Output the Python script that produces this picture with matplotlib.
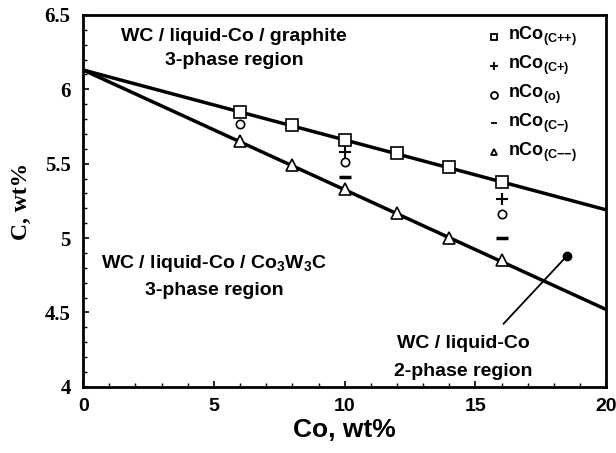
import matplotlib
matplotlib.use('Agg')
import numpy as np
from matplotlib import pyplot as plt

SANS = 'Liberation Sans'
SERIF = 'Liberation Serif'

plt.rcParams['mathtext.fontset'] = 'custom'
plt.rcParams['mathtext.rm'] = SANS + ':bold'
plt.rcParams['mathtext.bf'] = SANS + ':bold'
plt.rcParams['mathtext.it'] = SANS + ':bold'

# boundary lines (C wt% vs Co wt%)
line_x = [0, 20]
upper_c = [6.13, 5.19]
lower_c = [6.13, 4.52]

# samples
sq_x = [6, 8, 10, 12, 14, 16]
sq_c = [5.85, 5.76, 5.66, 5.57, 5.48, 5.38]
tri_x = [6, 8, 10, 12, 14, 16]
tri_c = [5.65, 5.49, 5.33, 5.17, 5.00, 4.85]
plus_x = [10, 16]
plus_c = [5.58, 5.26]
circ_x = [6, 10, 16]
circ_c = [5.77, 5.51, 5.16]
minus_x = [10, 16]
minus_c = [5.41, 5.00]

legend_labels = [r'nCo$_{\mathrm{(C{+}{+})}}$', r'nCo$_{\mathrm{(C{+})}}$', r'nCo$_{\mathrm{(o)}}$',
                 r'nCo$_{\mathrm{(C{-})}}$', r'nCo$_{\mathrm{(C{-}{-})}}$']
legend_markers = ['s', '+', 'o', '_', '^']

fig = plt.figure(figsize=(6.16, 4.53), dpi=100)
ax = fig.add_axes([0.135, 0.146, 0.849, 0.821])

ax.plot(line_x, upper_c, color='black', lw=2.5, zorder=2)
ax.plot(line_x, lower_c, color='black', lw=2.5, zorder=2)

ax.plot(sq_x, sq_c, 's', ms=8, mfc='white', mec='black', mew=1.2, ls='none', zorder=3)
ax.plot(tri_x, tri_c, '^', ms=9, mfc='white', mec='black', mew=1.2, ls='none', zorder=3)
ax.plot(plus_x, plus_c, '+', ms=8, mec='black', mew=1.5, ls='none', zorder=3)
ax.plot(circ_x, circ_c, 'o', ms=6, mfc='white', mec='black', mew=1.2, ls='none', zorder=3)
ax.plot(minus_x, minus_c, '_', ms=9, mec='black', mew=2.5, ls='none', zorder=3)

ax.set_xlim(0, 20)
ax.set_ylim(4, 6.5)
ax.set_xticks([0, 5, 10, 15, 20])
ax.set_xticks(np.arange(0, 21, 1), minor=True)
ax.set_yticks([4, 4.5, 5, 5.5, 6, 6.5])
ax.set_yticklabels(['4', '4.5', '5', '5.5', '6', '6.5'])
ax.set_yticks(np.arange(4, 6.51, 0.1), minor=True)
ax.tick_params(which='both', direction='in', top=False, right=False)
ax.tick_params(which='major', length=4, width=1.2)
ax.tick_params(which='minor', length=3, width=1)
ax.tick_params(axis='x', pad=8)
ax.tick_params(axis='y', pad=9)
for s in ax.spines.values():
    s.set_linewidth(2)

for lab in ax.get_xticklabels():
    lab.set_fontfamily(SANS)
    lab.set_fontweight('bold')
    lab.set_fontsize(14)
for lab in ax.get_yticklabels():
    lab.set_fontfamily(SERIF)
    lab.set_fontweight('bold')
    lab.set_fontsize(15)

ax.set_xlabel('Co, wt%', fontfamily=SANS, fontweight='bold', fontsize=19)
ax.xaxis.set_label_coords(0.5, -0.083)
ax.set_ylabel('C, wt%', fontfamily=SERIF, fontweight='bold', fontsize=17)
ax.yaxis.set_label_coords(-0.098, 0.5)

tkw = dict(fontfamily=SANS, fontweight='bold', fontsize=14, ha='center', va='center')
ax.text(5.78, 6.355, 'WC / liquid-Co / graphite', **tkw)
ax.text(5.78, 6.195, '3-phase region', **tkw)
ax.text(5.0, 4.83, 'WC / liquid-Co / Co$_{3}$W$_{3}$C', **tkw)
ax.text(5.0, 4.645, '3-phase region', **tkw)
ax.text(14.55, 4.29, 'WC / liquid-Co', **tkw)
ax.text(14.55, 4.1, '2-phase region', **tkw)

ax.annotate('', xy=(18.5, 4.88), xytext=(16.0, 4.41),
            arrowprops=dict(arrowstyle='-', color='black', lw=1.3))
ax.plot([18.5], [4.88], 'o', ms=6, color='black', zorder=4)

# legend drawn by hand in axes fraction
for i, (mk, lab) in enumerate(zip(legend_markers, legend_labels)):
    yy = 0.941 - i * 0.0775
    ax.plot([0.785], [yy], mk, transform=ax.transAxes, ms=5 if mk != '+' else 6,
            mfc='white', mec='black', mew=1.3, ls='none', clip_on=False)
    ax.text(0.812, yy, lab, transform=ax.transAxes, fontfamily=SANS, fontweight='bold',
            fontsize=13, ha='left', va='center')

fig.savefig('out.png', dpi=100)
